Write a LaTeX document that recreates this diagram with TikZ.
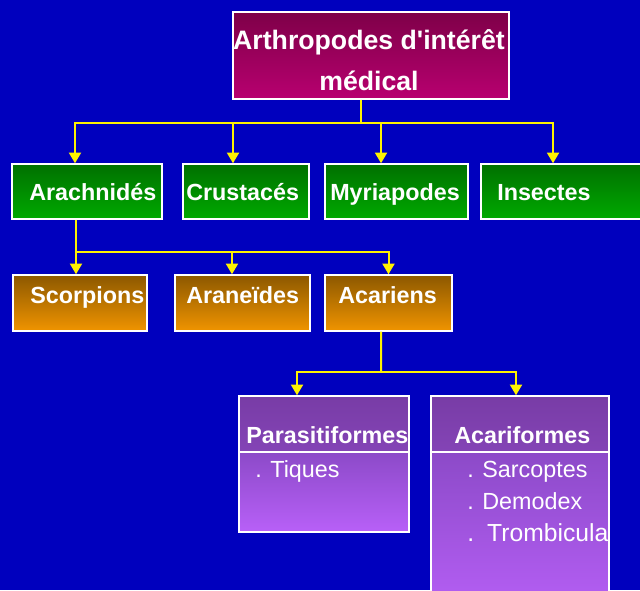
\documentclass[tikz,border=0pt]{standalone}
\usepackage{fontspec}
\setmainfont{Liberation Sans}
\usepackage{tikz}
\usetikzlibrary{arrows.meta, fit}
\definecolor{bgblue}{RGB}{0,0,190}
\definecolor{titletop}{RGB}{126,0,72}
\definecolor{titlebot}{RGB}{184,0,112}
\definecolor{greentop}{RGB}{0,112,0}
\definecolor{greenbot}{RGB}{0,170,0}
\definecolor{orangetop}{RGB}{140,88,0}
\definecolor{orangebot}{RGB}{240,148,0}
\definecolor{headtop}{RGB}{120,60,166}
\definecolor{headbot}{RGB}{132,68,182}
\definecolor{bodytop}{RGB}{140,74,200}
\definecolor{bodybot}{RGB}{184,96,248}
\tikzset{
  box/.style={rectangle,draw=white,line width=1.1pt,inner sep=0pt},
  titlebox/.style={box,top color=titletop,bottom color=titlebot},
  greenbox/.style={box,top color=greentop,bottom color=greenbot},
  orangebox/.style={box,top color=orangetop,bottom color=orangebot},
  headbox/.style={box,top color=headtop,bottom color=headbot},
  bodybox/.style={box,top color=bodytop,bottom color=bodybot},
  titletext/.style={text=white,font=\fontsize{20}{30.75}\selectfont\bfseries,
    align=center,inner sep=0pt,anchor=base},
  boxtext/.style={text=white,font=\fontsize{17.5}{21}\selectfont\bfseries,
    inner sep=0pt,anchor=base west},
  itemtext/.style={text=white,font=\fontsize{17.5}{21}\selectfont,
    inner sep=0pt,anchor=base west},
  wire/.style={draw=yellow,line width=1.5pt},
  arrow/.style={wire,-{Triangle[width=9pt,length=8pt]}}
}

\begin{document}
\begin{tikzpicture}[x=0.75pt,y=-0.75pt]
  \fill[bgblue] (0,0) rectangle (640,590);
  \useasboundingbox (0,0) rectangle (640,590);
  \clip (0,0) rectangle (640,590);

  % boxes
  \node[titlebox, fit={(233,12)(509,99)}] (arthro) {};
  \node[greenbox, fit={(12,164)(162,219)}] (arach) {};
  \node[greenbox, fit={(183,164)(309,219)}] (crust) {};
  \node[greenbox, fit={(325,164)(468,219)}] (myria) {};
  \node[greenbox, fit={(481,164)(700,219)}] (insect) {};
  \node[orangebox, fit={(13,275)(147,331)}] (scorp) {};
  \node[orangebox, fit={(175,275)(310,331)}] (aran) {};
  \node[orangebox, fit={(325,275)(452,331)}] (acar) {};
  \node[headbox, fit={(239,396)(409,452)}] (para) {};
  \node[bodybox, fit={(239,452)(409,532)}] (parabody) {};
  \node[headbox, fit={(431,396)(609,452)}] (acari) {};
  \node[bodybox, fit={(431,452)(609,620)}] (acaribody) {};

  % texts
  \node[titletext] (arthro-t) at (369,90) {Arthropodes d\textquotesingle intérêt\\médical};
  \node[boxtext] (arach-t) at (29,200) {Arachnidés};
  \node[boxtext] (crust-t) at (186,200) {Crustacés};
  \node[boxtext] (myria-t) at (330,200) {Myriapodes};
  \node[boxtext] (insect-t) at (497,200) {Insectes};
  \node[boxtext] (scorp-t) at (30,303) {Scorpions};
  \node[boxtext] (aran-t) at (186,303) {Araneïdes};
  \node[boxtext] (acar-t) at (338,303) {Acariens};
  \node[boxtext] (para-t) at (246,443) {Parasitiformes};
  \node[boxtext] (acari-t) at (454,443) {Acariformes};
  \node[itemtext] (tiques) at (255,477) {. Tiques};
  \node[itemtext] (sarco) at (467,477) {. Sarcoptes};
  \node[itemtext] (demo) at (467,509) {. Demodex};
  \node[itemtext, font=\fontsize{18.5}{21}\selectfont] (trombi) at (467,541) {. \hspace{3pt}Trombicula};

  % connectors
  \coordinate (hub1) at (361,123);
  \coordinate (hub2) at (76,252);
  \coordinate (hub3) at (381,372);
  \draw[wire] ([xshift=-7.5pt]arthro.south) -- (hub1);
  \draw[arrow] (hub1) -| ([xshift=-9pt]arach.north);
  \draw[arrow] (hub1) -| ([xshift=-9.75pt]crust.north);
  \draw[arrow] (hub1) -| ([xshift=-11.6pt]myria.north);
  \draw[arrow] (hub1) -| ([xshift=-28.1pt]insect.north);
  \draw[wire] ([xshift=-8.25pt]arach.south) -- (hub2);
  \draw[arrow] (hub2) -| ([xshift=-3pt]scorp.north);
  \draw[arrow] (hub2) -| ([xshift=-7.9pt]aran.north);
  \draw[arrow] (hub2) -| (acar.north);
  \draw[wire] ([xshift=-5.6pt]acar.south) -- (hub3);
  \draw[arrow] (hub3) -| ([xshift=-20.25pt]para.north);
  \draw[arrow] (hub3) -| ([xshift=-3pt]acari.north);
\end{tikzpicture}
\end{document}
